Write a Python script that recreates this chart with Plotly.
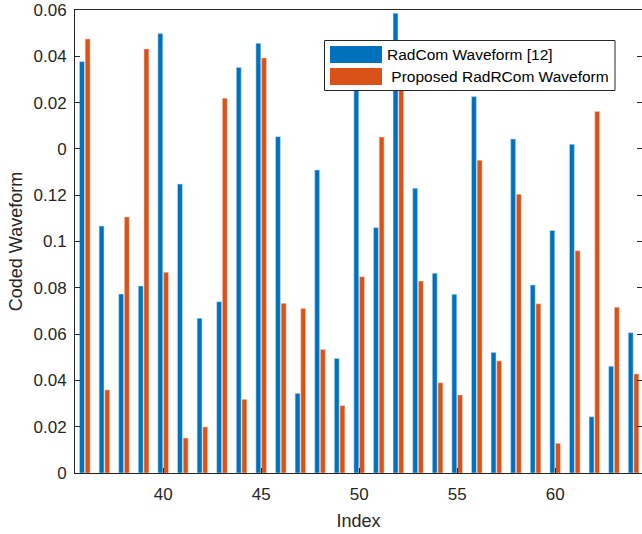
import plotly.graph_objects as go

# Sample index and coded waveform amplitudes for the two schemes
index = list(range(36, 65))
radcom = [0.1777, 0.1067, 0.0773, 0.0808, 0.1899, 0.1248, 0.0668, 0.0740, 0.1752, 0.1856,
          0.1453, 0.0344, 0.1309, 0.0495, 0.1740, 0.1060, 0.1986, 0.1230, 0.0863, 0.0772,
          0.1626, 0.0521, 0.1443, 0.0812, 0.1048, 0.1420, 0.0243, 0.0461, 0.0606]
proposed = [0.1875, 0.0359, 0.1106, 0.1832, 0.0867, 0.0151, 0.0199, 0.1619, 0.0318, 0.1793,
            0.0733, 0.0711, 0.0534, 0.0291, 0.0848, 0.1451, 0.1700, 0.0829, 0.0390, 0.0337,
            0.1351, 0.0484, 0.1204, 0.0731, 0.0128, 0.0960, 0.1562, 0.0716, 0.0428]

x_ticks = [40, 45, 50, 55, 60]
y_ticks = [0, 0.02, 0.04, 0.06, 0.08, 0.1, 0.12, 0.14, 0.16, 0.18, 0.2]
y_ticktext = ["0", "0.02", "0.04", "0.06", "0.08", "0.1", "0.12", "0", "0.02", "0.04", "0.06"]

series_names = ["RadCom Waveform [12]", " Proposed RadRCom Waveform"]
BLUE = "#0072BD"
ORANGE = "#D95319"
INK = "#262626"
FONT = "Liberation Sans, Arial, sans-serif"

W, H = 642, 534
L, R, T, B = 75, 0, 10, 61

fig = go.Figure()
fig.add_trace(go.Bar(x=index, y=radcom, name=series_names[0], marker_color=BLUE,
                     marker_line=dict(color="rgba(200,225,245,0.9)", width=0.6),
                     width=0.25, offset=-0.27, showlegend=False))
fig.add_trace(go.Bar(x=index, y=proposed, name=series_names[1], marker_color=ORANGE,
                     marker_line=dict(color="rgba(245,210,195,0.9)", width=0.6),
                     width=0.25, offset=0.02, showlegend=False))
# empty trace so the right-hand tick axis is rendered
fig.add_trace(go.Scatter(x=[], y=[], yaxis="y2", showlegend=False))

tickfont = dict(family=FONT, size=17, color=INK)

fig.update_layout(
    xaxis=dict(range=[35.5, 64.43], tickvals=x_ticks, showline=True, linecolor=INK, linewidth=1,
               mirror=True, ticks="inside", ticklen=5, tickcolor=INK, showgrid=False, zeroline=False,
               tickfont=tickfont, ticklabelstandoff=6,
               title=dict(text="Index", font=dict(family=FONT, size=18, color=INK), standoff=10)),
    yaxis=dict(range=[0, 0.2], tickvals=y_ticks, ticktext=y_ticktext, showline=True, linecolor=INK,
               linewidth=1, mirror=False, ticks="inside", ticklen=5, tickcolor=INK, showgrid=False,
               zeroline=False, tickfont=tickfont, ticklabelstandoff=4,
               title=dict(text="Coded Waveform", font=dict(family=FONT, size=18, color=INK), standoff=6)),
    yaxis2=dict(overlaying="y", side="right", range=[0, 0.2], tickvals=y_ticks, showline=False,
                ticks="inside", ticklen=5, tickcolor=INK, showticklabels=False, showgrid=False,
                zeroline=False),
)

# Legend drawn in pixel coordinates converted to paper space
pw, ph = W - L - R, H - T - B
def px(xp):
    return (xp - L) / pw
def py(yp):
    return (H - B - yp) / ph

shapes = [
    dict(type="rect", xref="paper", yref="paper", x0=px(324.5), x1=px(615), y0=py(90.5), y1=py(40.5),
         fillcolor="white", line=dict(color=INK, width=1), layer="above"),
    dict(type="rect", xref="paper", yref="paper", x0=px(330), x1=px(382), y0=py(63), y1=py(46),
         fillcolor=BLUE, line=dict(width=0), layer="above"),
    dict(type="rect", xref="paper", yref="paper", x0=px(330), x1=px(382), y0=py(85), y1=py(68),
         fillcolor=ORANGE, line=dict(width=0), layer="above"),
]
annotations = [
    dict(xref="paper", yref="paper", x=px(385), y=py(54), text=series_names[0], showarrow=False,
         xanchor="left", yanchor="middle", font=dict(family=FONT, size=15.5, color="black")),
    dict(xref="paper", yref="paper", x=px(385), y=py(77), text=series_names[1].replace(" ", "&nbsp;", 1),
         showarrow=False, xanchor="left", yanchor="middle", font=dict(family=FONT, size=15.5, color="black")),
]

fig.update_layout(width=W, height=H, margin=dict(l=L, r=R, t=T, b=B),
                  plot_bgcolor="white", paper_bgcolor="white",
                  barmode="overlay", shapes=shapes, annotations=annotations,
                  font=dict(family=FONT, color=INK))

fig.write_html("out.html")
